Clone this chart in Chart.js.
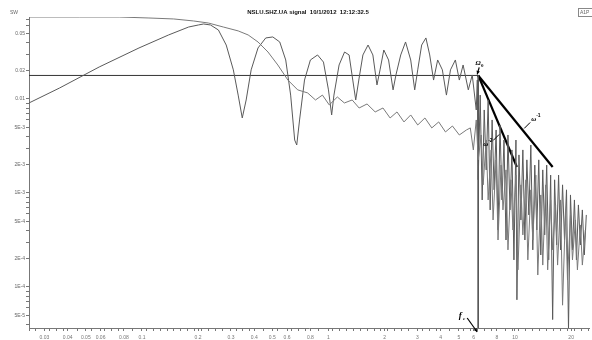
<!DOCTYPE html>
<html><head><meta charset="utf-8">
<script src="https://cdn.jsdelivr.net/npm/chart.js@4.4.1/dist/chart.umd.min.js"></script>
<style>html,body{margin:0;padding:0;background:#fff;overflow:hidden}canvas{display:block}</style>
</head><body>
<canvas id="c" width="592" height="340"></canvas>
<script>
const chartTitle = "NSLU.SHZ.UA signal  10/1/2012  12:12:32.5";
const yUnitLabel = "SW";
const boxLabel = "A1P";

// signal spectrum (frequency Hz, amplitude)
const signalFreq = [0.0248,0.0362,0.0590,0.0964,0.139,0.178,0.201,0.214,0.233,0.257,0.283,0.309,0.328,0.345,0.362,0.385,0.419,0.461,0.503,0.548,0.590,0.627,0.659,0.676,0.700,0.744,0.800,0.874,0.940,1.00,1.04,1.07,1.14,1.22,1.29,1.35,1.40,1.46,1.53,1.63,1.73,1.82,1.89,1.98,2.10,2.22,2.30,2.44,2.59,2.76,2.90,3.01,3.16,3.33,3.49,3.66,3.85,4.08,4.29,4.51,4.79,5.03,5.27,5.62,5.90,6.20,
 6.28,6.35,6.51,6.67,6.84,7.01,7.18,7.36,7.54,7.73,7.92,8.11,8.31,8.52,8.73,8.95,9.17,9.40,9.63,9.87,10.12,10.24,10.50,10.76,11.02,11.30,11.58,11.87,12.16,12.46,12.77,13.09,13.41,13.75,14.09,14.43,14.79,15.16,15.53,15.92,16.31,16.72,17.13,17.55,17.99,18.43,18.89,19.36,19.84,20.33,20.83,21.35,21.88,22.42,22.97,23.54,24.12];
const signalAmp = [0.00907,0.0131,0.0219,0.0349,0.0480,0.0583,0.0613,0.0628,0.0613,0.0542,0.0375,0.0204,0.0110,0.00628,0.00976,0.0204,0.0349,0.0446,0.0457,0.0404,0.0260,0.0110,0.00366,0.00324,0.00598,0.0159,0.0260,0.0294,0.0247,0.0125,0.00676,0.0110,0.0230,0.0316,0.0294,0.0159,0.00976,0.0167,0.0294,0.0375,0.0294,0.0141,0.0204,0.0332,0.0260,0.0125,0.0180,0.0294,0.0404,0.0260,0.0125,0.0204,0.0375,0.0446,0.0294,0.0159,0.0260,0.0204,0.0110,0.0204,0.0260,0.0159,0.0230,0.0125,0.0180,0.00764,
 0.0159,0.00138,0.0110,0.000843,0.00764,0.00176,0.00976,0.000660,0.00598,0.00108,0.00468,0.000404,0.00529,0.000843,0.00366,0.000316,0.00414,0.000660,0.00287,0.000194,0.00366,0.000073,0.00254,0.000516,0.00287,0.000316,0.00225,0.000584,0.00324,0.000248,0.00198,0.000404,0.00225,0.000219,0.00176,0.000358,0.00198,0.000194,0.00155,0.000045,0.00138,0.000280,0.00155,0.000248,0.00122,0.000316,0.00108,0.000035,0.000953,0.000248,0.000843,0.000194,0.000746,0.000280,0.000660,0.000219,0.000584];

// second (smoothed / noise) spectrum
const noiseFreq = [0.0248,0.0462,0.0755,0.109,0.148,0.189,0.227,0.273,0.328,0.371,0.419,0.474,0.535,0.606,0.684,0.773,0.852,0.928,1.01,1.116,1.217,1.34,1.46,1.61,1.78,1.96,2.14,2.33,2.54,2.76,3.01,3.29,3.58,3.90,4.24,4.62,5.03,5.49,
 5.76,5.98,6.20,6.35,6.59,6.75,7.01,7.18,7.45,7.63,7.92,8.11,8.42,8.62,8.95,9.17,9.51,9.75,10.12,10.37,10.76,11.02,11.44,11.72,12.16,12.46,12.93,13.25,13.75,14.09,14.61,14.97,15.53,15.92,16.51,16.92,17.55,17.99,18.66,19.12,19.84,20.33,21.09,21.61,22.42,22.97,23.83];
const noiseAmp = [0.0745,0.0745,0.0745,0.0727,0.0710,0.0676,0.0643,0.0583,0.0530,0.0480,0.0404,0.0316,0.0230,0.0159,0.0125,0.0116,0.00976,0.0110,0.00864,0.0105,0.00907,0.00976,0.00802,0.00885,0.00728,0.00802,0.00628,0.00728,0.00570,0.00676,0.00529,0.00628,0.00492,0.00570,0.00446,0.00516,0.00414,0.00468,
 0.00492,0.00287,0.00598,0.00225,0.00414,0.00122,0.00366,0.000843,0.00287,0.000516,0.00225,0.000316,0.00198,0.000660,0.00176,0.000248,0.00138,0.000404,0.00155,0.000152,0.00122,0.000358,0.00138,0.000194,0.00108,0.000316,0.00155,0.000134,0.000953,0.000171,0.00122,0.000152,0.000843,0.000248,0.000746,0.000171,0.000843,0.000064,0.000660,0.000119,0.000584,0.000194,0.000516,0.000152,0.000457,0.000171,0.000404];

// spectral fit annotations
const omega0 = 0.0178;
const cornerFreq = 6.35;
const slopeMinus2End = [10.24, 0.00189];
const slopeMinus1End = [15.92, 0.00189];

// axes
const xRange = [0.0248, 25];
const yRange = [3.66e-5, 0.0745];
const xTickValues = [0.03,0.04,0.05,0.06,0.08,0.1,0.2,0.3,0.4,0.5,0.6,0.8,1,2,3,4,5,6,8,10,20];
const xTickText = ["0.03","0.04","0.05","0.06","0.08","0.1","0.2","0.3","0.4","0.5","0.6","0.8","1","2","3","4","5","6","8","10","20"];
const yTickValues = [0.05,0.02,0.01,0.005,0.002,0.001,0.0005,0.0002,0.0001,0.00005];
const yTickText = ["0.05","0.02","0.01","5E-3","2E-3","1E-3","5E-4","2E-4","1E-4","5E-5"];

const pts = (fx, ay) => fx.map((f, i) => ({x: f, y: ay[i]}));
const near = (a, b) => Math.abs(Math.log10(a) - Math.log10(b)) < 0.004;

const annot = {
  id: 'annot',
  afterDraw(chart) {
    const {ctx, scales: {x, y}, chartArea: ca} = chart;
    ctx.save();
    ctx.fillStyle = '#111';
    ctx.font = 'bold 6px "Liberation Sans", Arial, sans-serif';
    ctx.textAlign = 'center'; ctx.textBaseline = 'middle';
    ctx.fillText(chartTitle, 308, 12);
    ctx.font = '5px "Liberation Sans", Arial, sans-serif';
    ctx.fillStyle = '#666';
    ctx.fillText(yUnitLabel, 14, 13);
    // box top right
    ctx.strokeStyle = '#888'; ctx.lineWidth = 1;
    ctx.strokeRect(578.5, 8.5, 16, 8);
    ctx.textAlign = 'left';
    ctx.fillText(boxLabel, 580, 13);

    const fx = x.getPixelForValue(cornerFreq);
    const oy = y.getPixelForValue(omega0);
    const arrow = (x1, y1, x2, y2) => {
      ctx.strokeStyle = '#000'; ctx.fillStyle = '#000'; ctx.lineWidth = 1.2;
      ctx.beginPath(); ctx.moveTo(x1, y1); ctx.lineTo(x2, y2); ctx.stroke();
      const a = Math.atan2(y2 - y1, x2 - x1);
      ctx.beginPath(); ctx.moveTo(x2, y2);
      ctx.lineTo(x2 - 4 * Math.cos(a - 0.45), y2 - 4 * Math.sin(a - 0.45));
      ctx.lineTo(x2 - 4 * Math.cos(a + 0.45), y2 - 4 * Math.sin(a + 0.45));
      ctx.closePath(); ctx.fill();
    };
    ctx.fillStyle = '#000';
    ctx.font = 'bold italic 7px "Liberation Serif", "DejaVu Serif", serif';
    ctx.textAlign = 'center'; ctx.textBaseline = 'alphabetic';
    ctx.fillText('Ω', fx, oy - 10);
    ctx.font = 'bold 5px "Liberation Serif", serif';
    ctx.fillText('0', fx + 4, oy - 8);
    arrow(fx + 1, oy - 8, fx - 1, oy - 1);

    // f_c
    ctx.font = 'bold italic 9px "Liberation Serif", "DejaVu Serif", serif';
    ctx.fillText('f', fx - 18, ca.bottom - 10);
    ctx.font = 'bold italic 5px "Liberation Serif", serif';
    ctx.fillText('c', fx - 14, ca.bottom - 8);
    arrow(fx - 11, ca.bottom - 10, fx - 1, ca.bottom + 4);

    // omega labels
    ctx.font = 'bold italic 7px "Liberation Serif", "DejaVu Serif", serif';
    ctx.textAlign = 'left';
    ctx.fillText('ω', fx + 5, oy + 71);
    ctx.font = 'bold 5px "Liberation Sans", sans-serif';
    ctx.fillText('-2', fx + 10, oy + 67);
    ctx.font = 'bold italic 7px "Liberation Serif", "DejaVu Serif", serif';
    ctx.fillText('ω', fx + 53, oy + 46);
    ctx.font = 'bold 5px "Liberation Sans", sans-serif';
    ctx.fillText('-1', fx + 58, oy + 42);
    ctx.strokeStyle = '#000'; ctx.lineWidth = 1;
    ctx.beginPath();
    ctx.moveTo(fx + 15, oy + 65); ctx.lineTo(fx + 21, oy + 59);
    ctx.moveTo(fx + 52, oy + 47); ctx.lineTo(fx + 46, oy + 53);
    ctx.stroke();
    ctx.restore();
  }
};

new Chart(document.getElementById('c'), {
  type: 'scatter',
  data: {
    datasets: [
      {data: pts(noiseFreq, noiseAmp), borderColor: '#7a7a7a'},
      {data: pts(signalFreq, signalAmp), borderColor: '#5a5a5a'},
      {data: [{x: xRange[0], y: omega0}, {x: cornerFreq, y: omega0}], borderColor: '#333'},
      {data: [{x: cornerFreq, y: omega0}, {x: cornerFreq, y: yRange[0]}], borderColor: '#555'},
      {data: [{x: cornerFreq, y: omega0}, {x: slopeMinus2End[0], y: slopeMinus2End[1]}], borderColor: '#000', borderWidth: 2.2},
      {data: [{x: cornerFreq, y: omega0}, {x: slopeMinus1End[0], y: slopeMinus1End[1]}], borderColor: '#000', borderWidth: 2.2}
    ].map(d => Object.assign({showLine: true, pointRadius: 0, borderWidth: 1, tension: 0, fill: false}, d))
  },
  options: {
    responsive: false, animation: false, devicePixelRatio: 1,
    layout: {padding: {top: 17, right: 0, left: 0, bottom: 0}},
    plugins: {legend: {display: false}, tooltip: {enabled: false}, title: {display: false}},
    scales: {
      x: {
        type: 'logarithmic', min: xRange[0], max: xRange[1],
        border: {color: '#777', width: 1},
        grid: {drawOnChartArea: false, tickLength: 3, tickColor: '#777'},
        afterBuildTicks(scale) {
          const lo = Math.log10(scale.min), hi = Math.log10(scale.max);
          const vals = xTickValues.slice();
          for (let v = lo; v <= hi; v += 0.037) {
            const t = Math.pow(10, v);
            if (!xTickValues.some(u => Math.abs(Math.log10(u) - v) < 0.015)) vals.push(t);
          }
          vals.sort((a, b) => a - b);
          scale.ticks = vals.map(v => ({value: v}));
        },
        afterFit(scale) { scale.height = 12; },
        ticks: {
          autoSkip: false, maxRotation: 0, padding: 4, color: '#777',
          font: {size: 5, family: '"Liberation Sans", Arial, sans-serif'},
          callback(v) { const i = xTickValues.findIndex(u => near(u, v)); return i >= 0 ? xTickText[i] : ''; }
        }
      },
      y: {
        type: 'logarithmic', min: yRange[0], max: yRange[1],
        border: {color: '#777', width: 1},
        grid: {drawOnChartArea: false, tickLength: 3, tickColor: '#777'},
        afterBuildTicks(scale) {
          const vals = [];
          for (let e = -5; e <= -2; e++) for (let s = 1; s <= 9; s++) {
            const v = s * Math.pow(10, e);
            if (v >= scale.min && v <= scale.max) vals.push(v);
          }
          scale.ticks = vals.map(v => ({value: v}));
        },
        afterFit(scale) { scale.width = 29; },
        ticks: {
          autoSkip: false, padding: 1, color: '#666',
          font: {size: 5, family: '"Liberation Sans", Arial, sans-serif'},
          callback(v) { const i = yTickValues.findIndex(u => near(u, v)); return i >= 0 ? yTickText[i] : ''; }
        }
      }
    }
  },
  plugins: [annot]
});
</script>
</body></html>
